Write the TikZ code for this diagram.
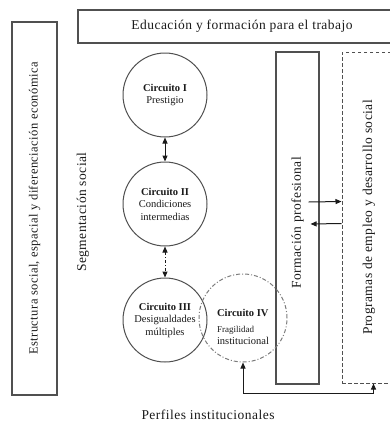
\documentclass[tikz,border=0pt]{standalone}
\usepackage{fontspec}
\setmainfont{Liberation Serif}
\newfontfamily\edspaced{Liberation Serif}[LetterSpace=3.5]
\usetikzlibrary{arrows.meta}
\definecolor{edInk}{HTML}{1A1A1A}
\definecolor{edLine}{HTML}{505050}
\tikzset{
  ed diagram/.style={font=\edspaced\fontsize{13.5}{15}\selectfont, text=edInk},
  ed box/.style={draw=edLine, line width=1.1pt, inner sep=0pt},
  ed dashed box/.style={ed box, line width=1pt, dash pattern=on 3.5pt off 2.5pt},
  ed circle/.style={circle, draw=edLine, line width=1pt, minimum size=84pt,
    inner sep=0pt, align=center, font=\rmfamily\fontsize{10.5}{12.5}\selectfont},
  ed weak circle/.style={ed circle, draw=edLine!75, minimum size=88pt,
    dash pattern=on 4pt off 2pt on 1pt off 2pt},
  ed arrow/.style={-{Triangle[length=6pt,width=5pt]}, draw=edInk, line width=1pt},
  ed both/.style={ed arrow, {Triangle[length=6pt,width=5pt]}-{Triangle[length=6pt,width=5pt]}},
  ed dotted arrow/.style={ed both, dash pattern=on 3pt off 2pt on 1pt off 2pt},
  ed vlabel/.style={rotate=90}
}
\begin{document}
\begin{tikzpicture}[x=1pt, y=-1pt, ed diagram]
\useasboundingbox (0,0) rectangle (390,426);
% frame boxes
\node[ed box, minimum width=45pt, minimum height=373pt,
  label={[rotate=90, font=\edspaced\fontsize{12.5}{14}\selectfont]center:Estructura social, espacial y diferenciación económica}] (estr) at (34.5,208.5) {};
\node[ed box, minimum width=328pt, minimum height=33pt] (edu) at (242,26.5) {Educación y formación para el trabajo};
\node[ed box, minimum width=43pt, minimum height=332pt,
  label={[rotate=90, xshift=-5pt]center:Formación profesional}] (fp) at (297.5,218) {};
\node[ed dashed box, minimum width=54pt, minimum height=331pt,
  label={[rotate=90]center:Programas de empleo y desarrollo social}] (prog) at (369,217.5) {};
\node[ed vlabel] (seg) at (83,212) {Segmentación social};
\node (perf) at (208,415) {Perfiles institucionales};
% circuits
\node[ed circle] (c1) at (165,95) {\textbf{Circuito I}\\Prestigio};
\node[ed circle] (c2) at (165,204) {\textbf{Circuito II}\\Condiciones\\intermedias};
\node[ed circle] (c3) at (165,320) {\textbf{Circuito III}\\Desigualdades\\múltiples};
\node[ed weak circle, label={[align=left, yshift=-9pt, font=\rmfamily\fontsize{10.5}{12.5}\selectfont]center:%
  \textbf{Circuito IV}\\[3pt]\fontsize{9}{11}\selectfont Fragilidad\\institucional}] (c4) at (243,318) {};
\draw[ed both] (c1) -- (c2);
\draw[ed dotted arrow] (c2) -- (c3);
% links to the right
\draw[ed arrow] ([xshift=-11pt,yshift=16pt]fp.east) -- ([yshift=16pt]prog.west);
\draw[ed arrow] ([yshift=-6pt]prog.west) -- ([xshift=-9pt,yshift=-6pt]fp.east);
\draw[ed both] (c4.south) -- ++(0,31) -| ([xshift=32pt]prog.south west);
\end{tikzpicture}
\end{document}
